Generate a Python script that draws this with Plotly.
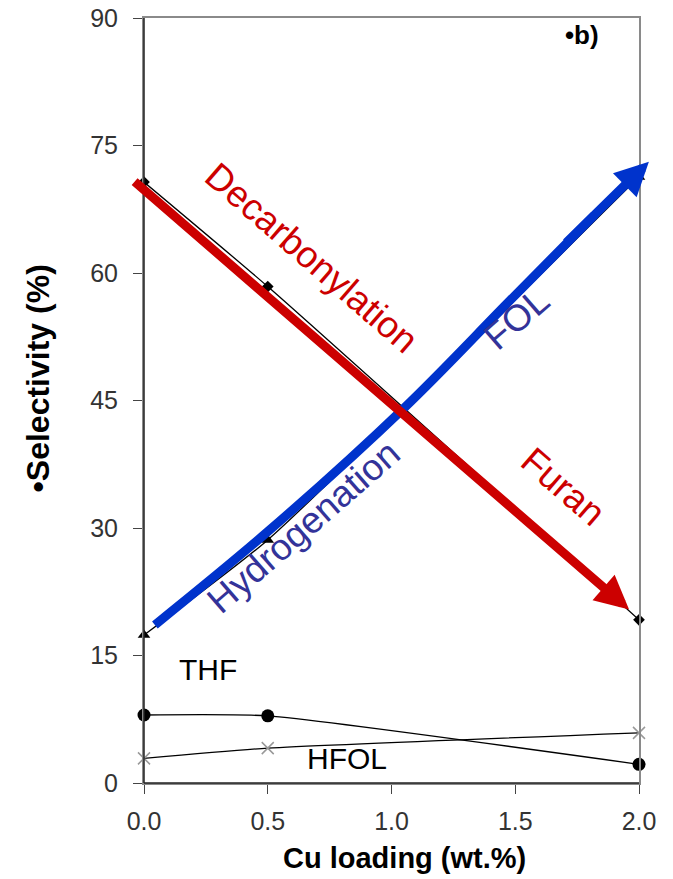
import plotly.graph_objects as go

cu_loading = [0.0, 0.5, 2.0]
furan = [70.7, 58.4, 19.2]
fol = [17.4, 28.6, 71.3]
thf = [8.0, 7.9, 2.2]
hfol = [2.9, 4.1, 5.9]

x_ticks = [0.0, 0.5, 1.0, 1.5, 2.0]
y_ticks = [0, 15, 30, 45, 60, 75, 90]

# guide arrows (data coordinates)
red_arrow_x = [-0.044, 1.96]
red_arrow_y = [70.9, 20.4]
blue_arrow_x = [0.044, 0.497, 1.05, 1.48, 1.82]
blue_arrow_y = [18.6, 29.5, 44.1, 56.8, 66.8]
blue_head_start = (1.70, 63.4)
blue_tip = (2.04, 73.1)

fig = go.Figure()

line_style = dict(color="black", width=1.3, shape="spline", smoothing=0.5)
fig.add_trace(go.Scatter(x=cu_loading, y=furan, mode="lines+markers", line=line_style,
                         marker=dict(symbol="diamond", size=9, color="black"), cliponaxis=False))
fig.add_trace(go.Scatter(x=cu_loading, y=fol, mode="lines+markers", line=line_style,
                         marker=dict(symbol="triangle-up", size=11, color="black"), cliponaxis=False))
fig.add_trace(go.Scatter(x=cu_loading, y=thf, mode="lines+markers", line=line_style,
                         marker=dict(symbol="circle", size=13, color="black"), cliponaxis=False))
fig.add_trace(go.Scatter(x=cu_loading, y=hfol, mode="lines+markers", line=line_style,
                         marker=dict(symbol="x-thin", size=12, line=dict(color="#999999", width=1.5)),
                         cliponaxis=False))

# blue curved arrow body
fig.add_trace(go.Scatter(x=blue_arrow_x, y=blue_arrow_y, mode="lines",
                         line=dict(color="#0033cc", width=9, shape="spline"), cliponaxis=False))

fig.add_annotation(x=blue_tip[0], y=blue_tip[1], ax=blue_head_start[0], ay=blue_head_start[1],
                   xref="x", yref="y", axref="x", ayref="y", text="", showarrow=True,
                   arrowhead=2, arrowsize=0.75, arrowwidth=9, arrowcolor="#0033cc")
fig.add_annotation(x=red_arrow_x[1], y=red_arrow_y[1], ax=red_arrow_x[0], ay=red_arrow_y[0],
                   xref="x", yref="y", axref="x", ayref="y", text="", showarrow=True,
                   arrowhead=2, arrowsize=0.75, arrowwidth=9, arrowcolor="#cc0000")

label_font = "Liberation Sans, Arial, sans-serif"
def label(text, x, y, color, size, angle=0, bold=False, ref="x"):
    fig.add_annotation(x=x, y=y, xref="x" if ref == "x" else "paper",
                       yref="y" if ref == "x" else "paper",
                       xanchor="center", yanchor="middle",
                       text=f"<b>{text}</b>" if bold else text,
                       showarrow=False, textangle=angle,
                       font=dict(family=label_font, size=size, color=color))

label("Decarbonylation", 0.675, 61.8, "#cc0000", 37, 41)
label("Furan", 1.693, 34.9, "#cc0000", 37, 41)
label("FOL", 1.507, 54.6, "#333399", 37, -41)
label("Hydrogenation", 0.646, 30.2, "#333399", 37, -41)
label("THF", 0.259, 13.3, "black", 30)
label("HFOL", 0.82, 2.9, "black", 30)
label("•b)", 1.77, 88.0, "black", 26, bold=True)

# axis titles
label("•Selectivity (%)", -0.214, 0.529, "black", 32, -90, bold=True, ref="paper")
label("Cu loading (wt.%)", 0.527, -0.098, "black", 29, 0, bold=True, ref="paper")

# black left and bottom frame (axis lines themselves are gray and mirrored)
fig.add_shape(type="line", xref="paper", yref="paper", x0=0, x1=1, y0=0, y1=0,
              line=dict(color="#222222", width=1.5), layer="above")
fig.add_shape(type="line", xref="paper", yref="paper", x0=0, x1=0, y0=0, y1=1,
              line=dict(color="#222222", width=1.5), layer="above")

fig.update_layout(
    width=673, height=879,
    margin=dict(l=144, r=34, t=18, b=96),
    plot_bgcolor="white", paper_bgcolor="white",
    showlegend=False,
    font=dict(family=label_font),
    xaxis=dict(range=[0, 2], tickvals=x_ticks, ticktext=[f"{v:.1f}" for v in x_ticks],
               showgrid=False, zeroline=False, showline=True, mirror=True,
               linecolor="#8a8a8a", linewidth=2,
               ticks="outside", ticklen=9, tickcolor="#444444", tickwidth=1,
               ticklabelstandoff=6, ticklabeloverflow="allow",
               tickfont=dict(size=25, color="#333333"), automargin=False),
    yaxis=dict(range=[0, 90], tickvals=y_ticks,
               showgrid=False, zeroline=False, showline=True, mirror=True,
               linecolor="#8a8a8a", linewidth=2,
               ticks="outside", ticklen=9, tickcolor="#444444", tickwidth=1,
               ticklabelstandoff=10, ticklabeloverflow="allow",
               tickfont=dict(size=25, color="#333333"), automargin=False),
)

fig.write_html("out.html", config={"displayModeBar": False},
               post_script="document.body.style.margin='0';document.body.style.overflow='hidden';")
